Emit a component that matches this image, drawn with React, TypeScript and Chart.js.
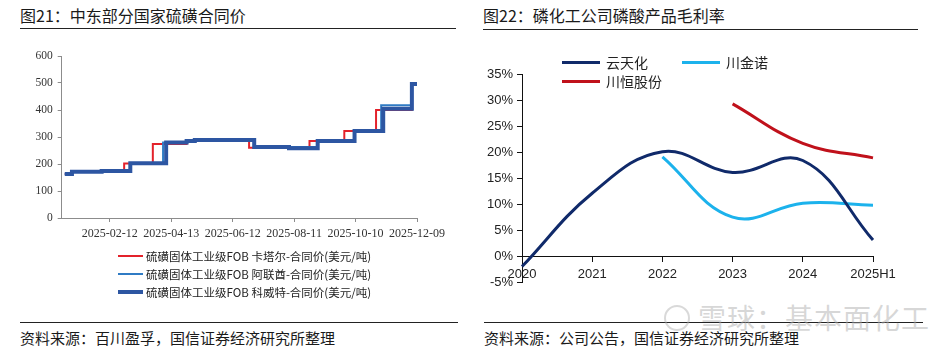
import React, { useEffect, useRef } from 'react';
import { Chart, registerables } from 'chart.js';

Chart.register(...registerables);

// ---------- Figure 21: Middle-East sulfur contract prices ----------
const sulfurTickDates = ['2025-02-12', '2025-04-13', '2025-06-12', '2025-08-11', '2025-10-10', '2025-12-09'];
const sulfurAxisStart = '2024-12-27';
const sulfurAxisEnd = '2025-12-09';
const sulfurSeriesNames = [
  '硫磺固体工业级FOB 卡塔尔-合同价(美元/吨)',
  '硫磺固体工业级FOB 阿联酋-合同价(美元/吨)',
  '硫磺固体工业级FOB 科威特-合同价(美元/吨)',
];

const qatarDates = ['2024-12-30', '2025-01-06', '2025-02-26', '2025-03-26', '2025-04-28', '2025-06-28', '2025-08-26', '2025-09-29', '2025-10-30', '2025-12-04', '2025-12-09'];
const qatarValues = [163, 171, 202, 274, 288, 260, 285, 322, 400, 496, 496];

const uaeDates = ['2024-12-30', '2025-01-06', '2025-03-04', '2025-04-05', '2025-04-28', '2025-07-03', '2025-09-03', '2025-10-09', '2025-11-04', '2025-12-04', '2025-12-09'];
const uaeValues = [163, 171, 203, 280, 287, 263, 285, 322, 418, 496, 496];

const kuwaitDates = ['2024-12-30', '2025-01-06', '2025-02-04', '2025-03-04', '2025-04-08', '2025-04-28', '2025-05-06', '2025-07-03', '2025-08-06', '2025-09-03', '2025-10-09', '2025-11-06', '2025-12-04', '2025-12-09'];
const kuwaitValues = [163, 171, 174, 203, 280, 285, 289, 263, 258, 285, 322, 405, 496, 496];

// ---------- Figure 22: phosphoric acid gross margins ----------
const marginYears = ['2020', '2021', '2022', '2023', '2024', '2025H1'];
const marginSeriesNames = ['云天化', '川金诺', '川恒股份'];
const yuntianhua = [-1.9, 12.2, 20.2, 16.2, 18.5, 3.2];
const chuanjinnuo = [null, null, 19.2, 7.6, 10.3, 9.9];
const chuanheng = [null, null, null, 29.4, 21.8, 19.0];

const CJK = '"Noto Sans CJK SC", "Noto Sans", sans-serif';
const SERIF = '"Liberation Serif", "Times New Roman", serif';
const SANS = '"Liberation Sans", Arial, sans-serif';

const sulfurColors = ['#e3222b', '#2f7bc4', '#2d56a2'];
const sulfurWidths = [2, 2, 4];
const marginColors = ['#102a6a', '#1cb2ec', '#c0111b'];

function dayNum(s: string): number {
  const [y, m, d] = s.split('-').map(Number);
  return Date.UTC(y, m - 1, d) / 86400000;
}

function toPoints(dates: string[], values: number[]) {
  return dates.map((d, i) => ({ x: dayNum(d), y: values[i] }));
}

export default function App() {
  const leftRef = useRef<HTMLCanvasElement>(null);
  const rightRef = useRef<HTMLCanvasElement>(null);

  useEffect(() => {
    const gray = '#8c8c8c';
    const left = new Chart(leftRef.current as HTMLCanvasElement, {
      type: 'line',
      data: {
        datasets: [
          { label: sulfurSeriesNames[0], data: toPoints(qatarDates, qatarValues), borderColor: sulfurColors[0], borderWidth: sulfurWidths[0], stepped: true, pointRadius: 0, order: 2, borderJoinStyle: 'miter' },
          { label: sulfurSeriesNames[1], data: toPoints(uaeDates, uaeValues), borderColor: sulfurColors[1], borderWidth: sulfurWidths[1], stepped: true, pointRadius: 0, order: 1, borderJoinStyle: 'miter' },
          { label: sulfurSeriesNames[2], data: toPoints(kuwaitDates, kuwaitValues), borderColor: sulfurColors[2], borderWidth: sulfurWidths[2], stepped: true, pointRadius: 0, order: 0, borderJoinStyle: 'miter' },
        ],
      } as any,
      options: {
        animation: false,
        responsive: false,
        layout: { padding: { left: 0, right: 31, top: 16, bottom: 10 } },
        plugins: { legend: { display: false }, tooltip: { enabled: false } },
        scales: {
          x: {
            type: 'linear',
            min: dayNum(sulfurAxisStart),
            max: dayNum(sulfurAxisEnd),
            afterBuildTicks: (s: any) => {
              s.ticks = sulfurTickDates.map((d) => ({ value: dayNum(d) }));
            },
            afterFit: (s: any) => { s.height = 22; },
            grid: { drawOnChartArea: false, tickLength: 4, color: gray },
            border: { color: gray, width: 1 },
            ticks: {
              autoSkip: false,
              maxRotation: 0,
              padding: 5,
              color: '#333',
              font: { family: SERIF, size: 12 },
              callback: (_v: any, i: number) => sulfurTickDates[i],
            },
          },
          y: {
            min: 0,
            max: 600,
            afterFit: (s: any) => { s.width = 51.7; },
            grid: { drawOnChartArea: false, tickLength: 4, color: gray },
            border: { color: gray, width: 1 },
            ticks: { stepSize: 100, padding: 5, color: '#333', font: { family: SERIF, size: 11.5 } },
          },
        },
      } as any,
    });

    const right = new Chart(rightRef.current as HTMLCanvasElement, {
      type: 'line',
      data: {
        labels: marginYears,
        datasets: [
          { label: marginSeriesNames[0], data: yuntianhua, borderColor: marginColors[0], borderWidth: 3, tension: 0.4, pointRadius: 0 },
          { label: marginSeriesNames[1], data: chuanjinnuo, borderColor: marginColors[1], borderWidth: 3, tension: 0.4, pointRadius: 0 },
          { label: marginSeriesNames[2], data: chuanheng, borderColor: marginColors[2], borderWidth: 3, tension: 0.4, pointRadius: 0 },
        ],
      } as any,
      options: {
        animation: false,
        responsive: false,
        layout: { padding: { left: 0, right: 67, top: 14.7, bottom: 12.3 } },
        plugins: { legend: { display: false }, tooltip: { enabled: false } },
        scales: {
          x: {
            position: { y: 0 },
            offset: false,
            grid: { drawOnChartArea: false, tickLength: 5, color: '#111' },
            border: { color: '#111', width: 1 },
            ticks: { autoSkip: false, maxRotation: 0, padding: 5, color: '#222', font: { family: SANS, size: 13 } },
          },
          y: {
            min: -5,
            max: 35,
            afterFit: (s: any) => { s.width = 52; },
            grid: { drawOnChartArea: false, tickLength: 5, color: '#111' },
            border: { color: '#111', width: 1 },
            ticks: { stepSize: 5, padding: 4, color: '#222', font: { family: SANS, size: 13 }, callback: (v: any) => `${v}%` },
          },
        },
      } as any,
    });

    return () => {
      left.destroy();
      right.destroy();
    };
  }, []);

  const abs = (l: number, t: number, extra: React.CSSProperties = {}): React.CSSProperties => ({ position: 'absolute', left: l, top: t, ...extra });
  const hline = (l: number, t: number, w: number, h = 1, c = '#222'): React.CSSProperties => abs(l, t, { width: w, height: h, background: c });

  return (
    <div style={{ position: 'absolute', left: 0, top: 0, width: 944, height: 354, background: '#fff', overflow: 'hidden', fontFamily: CJK, color: '#1a1a1a' }}>
      {/* titles */}
      <div style={abs(20, 4, { fontSize: 16, lineHeight: '22px', whiteSpace: 'nowrap' })}>图21：中东部分国家硫磺合同价</div>
      <div style={hline(20, 28, 436)} />
      <div style={abs(483, 4, { fontSize: 16, lineHeight: '22px', whiteSpace: 'nowrap' })}>图22：磷化工公司磷酸产品毛利率</div>
      <div style={hline(483, 29, 435)} />

      {/* charts */}
      <canvas ref={leftRef} width={440} height={210} style={abs(10, 40, { width: 440, height: 210 })} />
      <canvas ref={rightRef} width={470} height={235} style={abs(470, 60, { width: 470, height: 235 })} />

      {/* left legend */}
      {sulfurSeriesNames.map((n, i) => (
        <div key={n} style={abs(118, 256 + i * 18 - 9, { height: 18, display: 'flex', alignItems: 'center', whiteSpace: 'nowrap' })}>
          <div style={{ width: 25, height: sulfurWidths[i], background: sulfurColors[i], marginRight: 3 }} />
          <span style={{ fontSize: 11.5, color: '#222' }}>{n}</span>
        </div>
      ))}

      {/* right legend */}
      {marginSeriesNames.map((n, i) => {
        const col = i === 1 ? 1 : 0;
        const row = i === 2 ? 1 : 0;
        return (
          <div key={n} style={abs(562 + col * 120, 62 + row * 19 - 10, { height: 20, display: 'flex', alignItems: 'center', whiteSpace: 'nowrap' })}>
            <div style={{ width: 38, height: 3, background: marginColors[i], marginRight: 6 }} />
            <span style={{ fontSize: 14, color: '#222' }}>{n}</span>
          </div>
        );
      })}

      {/* footers */}
      <div style={hline(20, 322, 438)} />
      <div style={abs(20, 328, { fontSize: 15, lineHeight: '20px', whiteSpace: 'nowrap' })}>资料来源：百川盈孚，国信证券经济研究所整理</div>
      <div style={hline(484, 322, 439)} />
      <div style={abs(484, 328, { fontSize: 15, lineHeight: '20px', whiteSpace: 'nowrap' })}>资料来源：公司公告，国信证券经济研究所整理</div>

      {/* watermark */}
      <div style={abs(664, 305, { width: 26, height: 26, borderRadius: 13, border: '2px solid rgba(170,170,170,0.45)', boxSizing: 'border-box' })} />
      <div style={abs(698, 300, { fontSize: 28, lineHeight: '34px', color: 'rgba(175,175,175,0.5)', whiteSpace: 'nowrap', letterSpacing: 1 })}>雪球：基本面化工</div>
    </div>
  );
}
